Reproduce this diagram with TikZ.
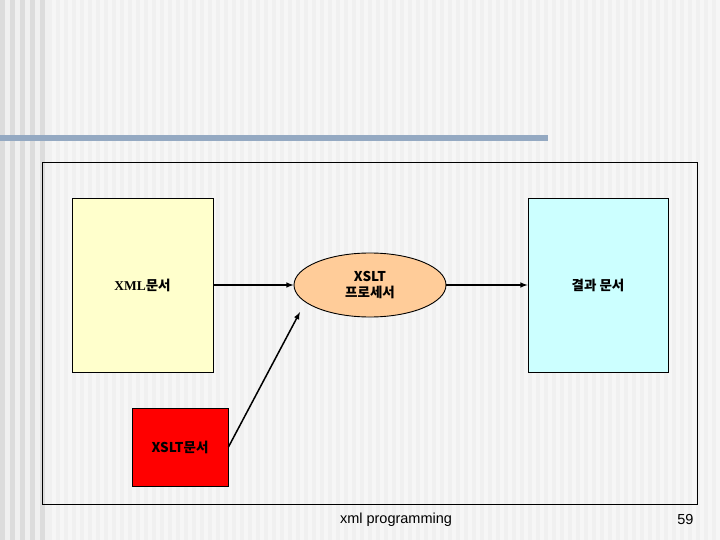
\documentclass[tikz,border=0pt]{standalone}
\usepackage{fontspec}
\setmainfont{Liberation Sans}
\newfontfamily\kor{Noto Sans CJK KR}
\newfontfamily\serifa{Liberation Serif}
\usetikzlibrary{shapes.geometric}
\definecolor{sfondo}{HTML}{F0F0F0}
\definecolor{riga}{HTML}{F6F6F6}
\definecolor{bordo}{HTML}{DCDCDC}
\definecolor{barra}{HTML}{94A9C2}
\definecolor{giallo}{HTML}{FFFFCC}
\definecolor{pesca}{HTML}{FFCC99}
\definecolor{ciano}{HTML}{CCFFFF}
\definecolor{rosso}{HTML}{FF0000}

\begin{document}
\begin{tikzpicture}[x=1pt,y=-1pt,
            every node/.style={font=\kor\bfseries\fontsize{13.5}{16}\selectfont},
            scatola/.style={draw=black, line width=0.9pt, inner sep=0pt},
            freccia/.style={-latex, line width=1.5pt}]
        % Sfondo a righe verticali
        \fill[sfondo] (0,0) rectangle (720,540);
        \foreach \x in {52,60,...,716}{
                \fill[riga] (\x,0) rectangle ++(4,540);
            }
        \foreach \x in {0,10,...,40}{
                \fill[bordo] (\x,0) rectangle ++(5,540);
            }
        \useasboundingbox (0,0) rectangle (720,540);

        % Barra del titolo e cornice
        \fill[barra] (0,135) rectangle (548,141);
        \draw[line width=0.9pt] (42,162) rectangle (697,504);

        % Documenti e processore
        \node[scatola, fill=giallo, minimum width=141pt, minimum height=174pt]
            (xml) at (142.5,285) {{\serifa XML}문서};
        \node[scatola, fill=ciano, minimum width=140pt, minimum height=174pt]
            (ris) at (598,285) {결과 문서};
        \node[scatola, fill=rosso, minimum width=96pt, minimum height=78pt]
            (xsl) at (180,447) {XSLT문서};
        \node[scatola, ellipse, fill=pesca, minimum width=152pt, minimum height=64pt,
            align=center] (proc) at (370,285) {XSLT\\프로세서};
        \coordinate (punta) at (300,312);

        % Frecce
        \draw[freccia] (xml) -- (proc);
        \draw[freccia] (proc) -- (ris);
        \draw[freccia] (xsl.east) -- (punta);

        % Piè di pagina
        \node[font=\fontsize{14.5}{17}\selectfont] (piede) at (396,520) {xml programming};
        \node[font=\fontsize{14.5}{17}\selectfont, anchor=east] (pagina) at (697,520) {59};
    \end{tikzpicture}
\end{document}
